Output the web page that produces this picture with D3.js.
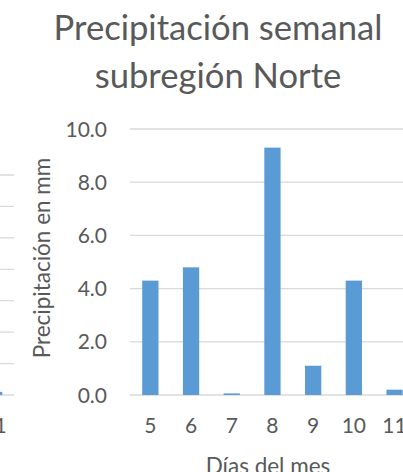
<!DOCTYPE html>
<html>
<head>
<meta charset="utf-8">
<script src="https://cdn.jsdelivr.net/npm/d3@7"></script>
<style>
  html, body { margin: 0; padding: 0; background: #fff; overflow: hidden; }
  text { font-family: Lato, "Open Sans", sans-serif; fill: #595959; }
</style>
</head>
<body>
<svg id="chart"></svg>
<script>
// Data
const days = ["5", "6", "7", "8", "9", "10", "11"];
const rain = [4.3, 4.8, 0.06, 9.3, 1.1, 4.3, 0.2];
const yTicks = [0, 2, 4, 6, 8, 10];

// neighbour chart, only its right edge shows at the left of the picture
const leftDays = ["5", "6", "7", "8", "9", "10", "11"];
const leftRain = [null, null, null, null, null, null, 0.1];
const leftTicks = [0, 1, 2, 3, 4, 5, 6, 7];

const W = 403, H = 472;
const svg = d3.select("#chart").attr("width", W).attr("height", H);

// ---------- neighbour chart (cropped) ----------
const yLeft = d3.scaleLinear().domain([0, 7]).range([395, 175]);
const xLeft = d3.scaleBand().domain(leftDays).range([14 - 7 * 39, 14])
    .paddingInner(0.6).paddingOuter(0.3);
const leftVisible = leftDays.map((d, i) => ({ day: d, v: leftRain[i] })).filter(d => d.v != null);

svg.append("g").selectAll("line")
    .data(leftTicks)
    .enter().append("line")
    .attr("x1", xLeft.range()[0]).attr("x2", xLeft.range()[1])
    .attr("y1", d => yLeft(d)).attr("y2", d => yLeft(d))
    .attr("stroke", "#d9d9d9").attr("stroke-width", 1.3);

svg.append("g").selectAll("rect")
    .data(leftVisible)
    .enter().append("rect")
    .attr("x", d => xLeft(d.day))
    .attr("width", xLeft.bandwidth())
    .attr("y", d => yLeft(d.v))
    .attr("height", d => yLeft(0) - yLeft(d.v))
    .attr("fill", "#5b9bd5");

// only the last label peeks into the picture
svg.append("g").selectAll("text")
    .data(leftVisible)
    .enter().append("text")
    .attr("x", d => xLeft(d.day) + xLeft.bandwidth() / 2)
    .attr("y", 433)
    .attr("text-anchor", "middle")
    .style("font-size", "21px")
    .text(d => d.day);

// ---------- main chart ----------
const plotLeft = 130;
const step = 40.7;
const y = d3.scaleLinear().domain([0, 10]).range([395, 129]);
const x = d3.scaleBand().domain(days).range([plotLeft, plotLeft + days.length * step])
    .paddingInner(0.6).paddingOuter(0.3);

// gridlines
svg.append("g").selectAll("line")
    .data(yTicks)
    .enter().append("line")
    .attr("x1", x.range()[0]).attr("x2", x.range()[1])
    .attr("y1", d => y(d)).attr("y2", d => y(d))
    .attr("stroke", "#d9d9d9").attr("stroke-width", 1.3);

// y tick labels
svg.append("g").selectAll("text")
    .data(yTicks)
    .enter().append("text")
    .attr("x", 107)
    .attr("y", d => y(d))
    .attr("dy", "0.36em")
    .attr("text-anchor", "end")
    .style("font-size", "21px")
    .text(d => d3.format(".1f")(d));

// bars
svg.append("g").selectAll("rect")
    .data(days.map((d, i) => ({ day: d, v: rain[i] })))
    .enter().append("rect")
    .attr("x", d => x(d.day))
    .attr("width", x.bandwidth())
    .attr("y", d => y(d.v))
    .attr("height", d => y(0) - y(d.v))
    .attr("fill", "#5b9bd5");

// x tick labels
svg.append("g").selectAll("text")
    .data(days)
    .enter().append("text")
    .attr("x", d => x(d) + x.bandwidth() / 2)
    .attr("y", 433)
    .attr("text-anchor", "middle")
    .style("font-size", "21px")
    .text(d => d);

// axis titles
svg.append("text")
    .attr("transform", "translate(50,258) rotate(-90)")
    .attr("text-anchor", "middle")
    .style("font-size", "22.5px")
    .text("Precipitación en mm");

svg.append("text")
    .attr("x", 268)
    .attr("y", 474)
    .attr("text-anchor", "middle")
    .style("font-size", "22.5px")
    .text("Días del mes");

// chart title, two lines, sized to the width seen in the picture
const title = svg.append("g").attr("class", "title");
const t1 = title.append("text")
    .attr("x", 218).attr("y", 40)
    .attr("text-anchor", "middle")
    .style("font-size", "30px")
    .text("Precipitación semanal");
const t2 = title.append("text")
    .attr("x", 218).attr("y", 88)
    .attr("text-anchor", "middle")
    .style("font-size", "30px")
    .text("subregión Norte");
const fs = 30 * 329 / t1.node().getComputedTextLength();
t1.style("font-size", fs + "px");
t2.style("font-size", fs + "px");
</script>
</body>
</html>
